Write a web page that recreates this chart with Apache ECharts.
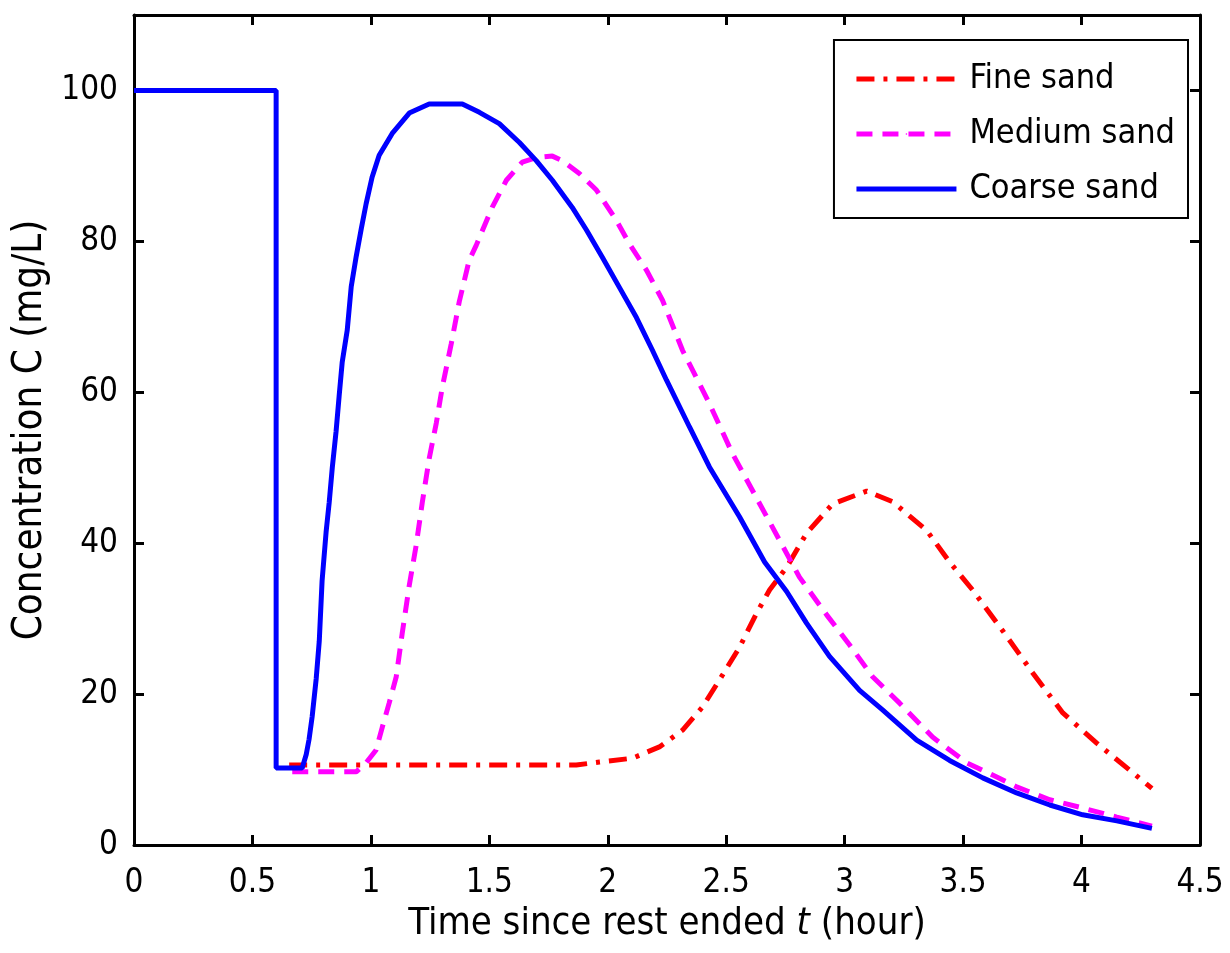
<!DOCTYPE html>
<html>
<head>
<meta charset="utf-8">
<script src="https://cdn.jsdelivr.net/npm/echarts@6/dist/echarts.min.js"></script>
<style>
  html, body { margin: 0; padding: 0; background: #ffffff; }
  #chart { width: 1230px; height: 953px; }
</style>
</head>
<body>
<div id="chart"></div>
<script>
// Breakthrough curves after the rest period, one per sand grade
const seriesNames = ['Fine sand', 'Medium sand', 'Coarse sand'];

// Fine sand: time (h) and concentration (mg/L)
const fineT = [0.655, 1.867, 1.965, 2.104, 2.218, 2.315, 2.400, 2.472, 2.556, 2.628, 2.683, 2.755,
  2.839, 2.949, 3.093, 3.202, 3.346, 3.443, 3.540, 3.667, 3.794, 3.921, 4.064, 4.204, 4.297];
const fineC = [10.6, 10.6, 11.0, 11.5, 13.0, 15.2, 18.3, 21.9, 26.2, 30.7, 33.8, 36.8,
  41.3, 45.2, 46.9, 45.5, 41.7, 37.5, 33.8, 28.4, 22.8, 17.5, 13.5, 9.9, 7.5];

// Medium sand
const mediumT = [0.668, 0.938, 0.980, 1.022, 1.048, 1.077, 1.107, 1.132, 1.162, 1.191, 1.217, 1.246,
  1.276, 1.301, 1.339, 1.373, 1.415, 1.445, 1.512, 1.572, 1.639, 1.698, 1.766, 1.808, 1.880, 1.952,
  2.036, 2.091, 2.163, 2.231, 2.315, 2.429, 2.526, 2.640, 2.725, 2.809, 2.924, 3.021, 3.118, 3.232,
  3.371, 3.515, 3.642, 3.726, 3.866, 4.005, 4.149, 4.297];
const mediumC = [9.7, 9.7, 10.9, 12.6, 15.6, 18.8, 22.3, 28.0, 34.4, 39.7, 45.4, 51.2,
  55.9, 60.6, 66.4, 72.0, 77.5, 79.5, 84.5, 88.1, 90.5, 91.1, 91.3, 90.7, 89.0, 86.8,
  82.8, 79.7, 76.2, 72.2, 65.6, 58.5, 51.9, 45.3, 40.4, 35.5, 30.5, 26.5, 22.3, 18.8,
  14.3, 10.9, 9.0, 7.7, 6.0, 4.9, 3.7, 2.5];

// Coarse sand (includes the initial resting level and the step down)
const coarseT = [0, 0.600, 0.600, 0.710, 0.727, 0.739, 0.752, 0.769, 0.782, 0.794, 0.811, 0.824,
  0.837, 0.853, 0.866, 0.879, 0.900, 0.917, 0.938, 0.959, 0.980, 1.005, 1.035, 1.090, 1.162, 1.246,
  1.386, 1.458, 1.542, 1.627, 1.698, 1.766, 1.850, 1.910, 1.977, 2.049, 2.121, 2.188, 2.248, 2.345,
  2.429, 2.556, 2.662, 2.755, 2.839, 2.936, 3.063, 3.160, 3.304, 3.443, 3.583, 3.726, 3.866, 4.005,
  4.149, 4.297];
const coarseC = [100, 100, 10.2, 10.2, 12.0, 14.0, 17.0, 22.0, 27.0, 35.0, 41.5, 45.4,
  50.0, 54.8, 59.5, 64.0, 68.2, 74.0, 78.0, 81.6, 85.0, 88.5, 91.4, 94.3, 97.0, 98.2,
  98.2, 97.1, 95.6, 93.1, 90.7, 88.1, 84.5, 81.5, 77.9, 73.9, 69.9, 65.6, 61.6, 55.4,
  50.1, 43.5, 37.5, 33.6, 29.4, 25.0, 20.5, 17.9, 13.9, 11.2, 8.9, 6.9, 5.3, 4.0,
  3.2, 2.2];

const FONT = "'Liberation Sans Narrow','Arial Narrow','DejaVu Sans Condensed',sans-serif";
const zip = (t, c) => t.map((v, i) => [v, c[i]]);

const chart = echarts.init(document.getElementById('chart'), null, { renderer: 'canvas' });

const frameAxis = {
  axisLine: { show: true, onZero: false, lineStyle: { color: '#000', width: 3 } },
  axisTick: { show: true, inside: true, length: 10, lineStyle: { color: '#000', width: 3 } },
  splitLine: { show: false }
};

chart.setOption({
  animation: false,
  backgroundColor: '#ffffff',
  grid: { left: 134, right: 30, top: 15, bottom: 108, containLabel: false },
  legend: {
    orient: 'vertical',
    right: 42,
    top: 40,
    itemWidth: 100,
    itemHeight: 2,
    itemGap: 15,
    padding: [19, 13, 9, 20],
    borderColor: '#000',
    borderWidth: 2,
    backgroundColor: '#fff',
    lineStyle: { width: 5 },
    textStyle: { fontFamily: FONT, fontSize: 34, color: '#000', lineHeight: 40, padding: [0, 0, 0, 8] },
    data: seriesNames.map(n => ({ name: n }))
  },
  xAxis: [
    Object.assign({}, frameAxis, {
      type: 'value', position: 'bottom', min: 0, max: 4.5, interval: 0.5,
      name: 'Time since rest ended {i|t} (hour)',
      nameLocation: 'middle', nameGap: 59,
      nameTextStyle: { fontFamily: FONT, fontSize: 38, color: '#000',
        rich: { i: { fontFamily: FONT, fontSize: 38, fontStyle: 'italic', color: '#000' } } },
      axisLabel: { show: true, margin: 22, fontFamily: FONT, fontSize: 33, color: '#000' }
    }),
    Object.assign({}, frameAxis, {
      type: 'value', position: 'top', min: 0, max: 4.5, interval: 0.5,
      axisLabel: { show: false }
    })
  ],
  yAxis: [
    Object.assign({}, frameAxis, {
      type: 'value', position: 'left', min: 0, max: 110, interval: 20,
      name: 'Concentration C (mg/L)',
      nameLocation: 'middle', nameGap: 67,
      nameTextStyle: { fontFamily: FONT, fontSize: 40, color: '#000' },
      axisLabel: { show: true, margin: 16, fontFamily: FONT, fontSize: 33, color: '#000',
        formatter: v => (v > 100 ? '' : String(v)) }
    }),
    Object.assign({}, frameAxis, {
      type: 'value', position: 'right', min: 0, max: 110, interval: 20,
      axisLabel: { show: false }
    })
  ],
  series: [
    {
      name: seriesNames[0], type: 'line', xAxisIndex: 0, yAxisIndex: 0,
      showSymbol: false, symbol: 'none',
      data: zip(fineT, fineC),
      lineStyle: { color: '#ff0000', width: 5, type: [18, 9, 4, 9] },
      itemStyle: { color: '#ff0000' }
    },
    {
      name: seriesNames[1], type: 'line', xAxisIndex: 0, yAxisIndex: 0,
      showSymbol: false, symbol: 'none',
      data: zip(mediumT, mediumC),
      lineStyle: { color: '#ff00ff', width: 5, type: [16, 10] },
      itemStyle: { color: '#ff00ff' }
    },
    {
      name: seriesNames[2], type: 'line', xAxisIndex: 0, yAxisIndex: 0,
      showSymbol: false, symbol: 'none',
      data: zip(coarseT, coarseC),
      lineStyle: { color: '#0000ff', width: 5, type: 'solid' },
      itemStyle: { color: '#0000ff' }
    }
  ]
});
</script>
</body>
</html>
